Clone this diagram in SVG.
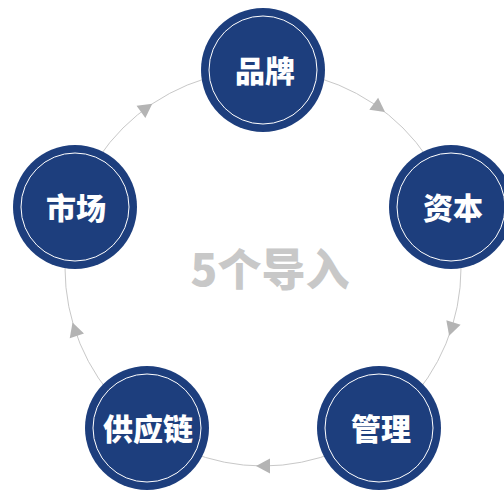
<svg xmlns="http://www.w3.org/2000/svg" width="504" height="491" viewBox="0 0 504 491">
<style>
.outer{fill:#1d3e7d}
.inner{fill:none;stroke:#ffffff;stroke-width:1}
.lbl{fill:#ffffff;font-family:"Noto Sans CJK SC","Noto Sans",sans-serif;font-weight:900;font-size:30px;text-anchor:middle}
.ring{fill:none;stroke:#c8c8c8;stroke-width:1}
.arr{fill:#b4b4b4}
</style>
<rect width="504" height="491" fill="#ffffff"/>
<g id="connectors">
<circle class="ring" cx="263" cy="268" r="198"/>
<g transform="rotate(-36 263 268)"><polygon class="arr" points="270,70 256,62.5 256,77.5"/></g>
<g transform="rotate(36 263 268)"><polygon class="arr" points="270,70 256,62.5 256,77.5"/></g>
<g transform="rotate(108 263 268)"><polygon class="arr" points="270,70 256,62.5 256,77.5"/></g>
<g transform="rotate(180 263 268)"><polygon class="arr" points="270,70 256,62.5 256,77.5"/></g>
<g transform="rotate(252 263 268)"><polygon class="arr" points="270,70 256,62.5 256,77.5"/></g>
</g>
<text x="270" y="286" font-family="'Noto Sans CJK SC','Noto Sans',sans-serif" font-weight="900" font-size="44" fill="#c8c8c8" text-anchor="middle">5个导入</text>
<g id="pinpai">
<circle class="outer" cx="263" cy="70" r="62"/>
<circle class="inner" cx="263" cy="70" r="54"/>
<text class="lbl" x="265" y="82">品牌</text>
</g>
<g id="ziben">
<circle class="outer" cx="451" cy="207" r="62"/>
<circle class="inner" cx="451" cy="207" r="54"/>
<text class="lbl" x="453" y="219">资本</text>
</g>
<g id="guanli">
<circle class="outer" cx="379" cy="428" r="62"/>
<circle class="inner" cx="379" cy="428" r="54"/>
<text class="lbl" x="381" y="440">管理</text>
</g>
<g id="gongyinglian">
<circle class="outer" cx="147" cy="428" r="62"/>
<circle class="inner" cx="147" cy="428" r="54"/>
<text class="lbl" x="148" y="440">供应链</text>
</g>
<g id="shichang">
<circle class="outer" cx="75" cy="207" r="62"/>
<circle class="inner" cx="75" cy="207" r="54"/>
<text class="lbl" x="76" y="219">市场</text>
</g>
</svg>
